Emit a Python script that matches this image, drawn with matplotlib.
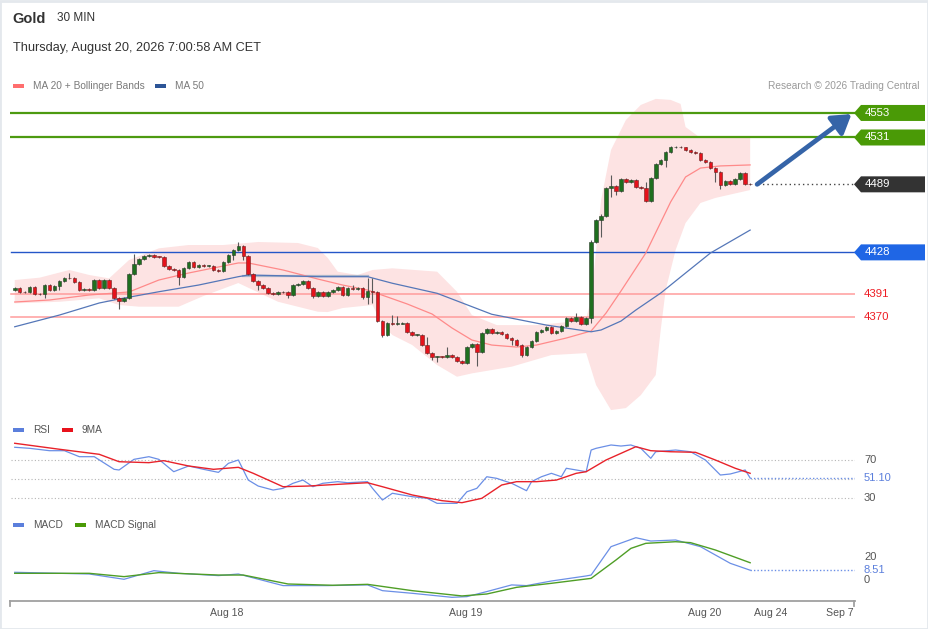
import matplotlib
matplotlib.use('Agg')
import matplotlib.pyplot as plt
from matplotlib.patches import Polygon, Rectangle
import numpy as np

plt.rcParams['font.family'] = ['Liberation Sans', 'DejaVu Sans']

W, H = 929, 629

#### data (30 min bars, bar 0 = first candle) ####
first_open = 4394.2
closes = [4396.0, 4392.4, 4392.2, 4396.9, 4390.6, 4390.3, 4398.7, 4394.2, 4397.8, 4402.3,
          4405.0, 4404.8, 4401.4, 4394.2, 4395.1, 4394.0, 4403.2, 4396.0, 4403.2, 4396.0,
          4387.1, 4384.4, 4387.1, 4408.6, 4417.6, 4422.0, 4424.7, 4426.0, 4424.0, 4423.8,
          4415.8, 4413.1, 4412.2, 4405.9, 4414.0, 4419.4, 4414.9, 4416.7, 4415.8, 4415.9,
          4412.2, 4411.3, 4419.4, 4425.6, 4430.1, 4433.7, 4424.7, 4408.6, 4402.3, 4398.7,
          4396.0, 4391.5, 4390.6, 4392.4, 4392.2, 4389.8, 4398.7, 4399.6, 4402.3, 4396.0,
          4388.9, 4392.4, 4388.9, 4392.7, 4394.2, 4397.2, 4389.8, 4395.8, 4395.1, 4396.3,
          4388.2, 4393.6, 4392.7, 4366.4, 4353.9, 4364.6, 4363.8, 4364.2, 4364.6, 4356.8,
          4353.9, 4354.0, 4344.9, 4337.8, 4334.2, 4334.6, 4334.5, 4336.0, 4334.2, 4330.6,
          4328.8, 4343.1, 4345.8, 4338.6, 4355.7, 4359.3, 4355.7, 4356.6, 4354.8, 4351.2,
          4349.4, 4344.9, 4336.0, 4343.1, 4348.5, 4356.6, 4358.4, 4361.1, 4355.7, 4357.5,
          4362.0, 4369.1, 4366.4, 4370.0, 4363.8, 4369.1, 4437.3, 4457.0, 4460.6, 4485.7,
          4487.8, 4483.0, 4493.8, 4490.8, 4492.9, 4486.4, 4485.5, 4474.0, 4494.9, 4507.0,
          4510.8, 4518.3, 4522.2, 4522.4, 4522.1, 4519.8, 4518.3, 4516.9, 4510.8, 4509.3,
          4503.9, 4500.4, 4488.4, 4492.3, 4489.1, 4493.8, 4498.9, 4489.1, 4489.0]

# the longer wicks (bar: price); the rest have a short stub
long_highs = {11: 4409.5, 24: 4426.5, 45: 4437.3, 68: 4398.7, 71: 4405.0, 72: 4405.0,
              76: 4371.6, 77: 4370.5, 83: 4352.0, 87: 4343.4, 113: 4373.6, 116: 4439.0,
              118: 4462.0, 120: 4497.4, 127: 4491.4}
long_lows = {6: 4387.3, 9: 4394.2, 21: 4377.2, 33: 4398.7, 44: 4420.8, 46: 4421.1,
             49: 4394.2, 55: 4387.0, 60: 4387.0, 70: 4386.0, 71: 4382.0, 72: 4383.0,
             74: 4352.0, 84: 4331.4, 85: 4329.4, 93: 4326.1, 100: 4345.0, 102: 4334.5,
             116: 4365.0, 118: 4442.0, 120: 4478.0, 121: 4479.5, 127: 4473.4, 128: 4473.0,
             131: 4504.9, 141: 4491.4, 142: 4484.8}

ma20_bars = [0, 7, 15, 23, 29, 35, 41, 45, 47, 54, 61, 66, 71, 75, 79, 84, 88, 92, 96,
             101, 105, 111, 116, 119, 122, 127, 132, 135, 138, 142, 148]
ma20_vals = [4383.5, 4385.3, 4389.8, 4392.5, 4403.2, 4409.5, 4414.9, 4418.5, 4418.5, 4412.2,
             4404.1, 4398.7, 4394.2, 4388.0, 4381.7, 4372.7, 4360.2, 4349.4, 4344.9, 4343.1,
             4344.9, 4351.2, 4357.5, 4373.6, 4393.3, 4427.4, 4473.2, 4495.6, 4503.6, 4505.5,
             4506.4]

bb_up_bars = [0, 5, 11, 15, 19, 23, 29, 35, 42, 49, 57, 61, 63, 65, 69, 72, 76, 85, 89,
              92, 97, 105, 112, 115, 116, 118, 120, 123, 126, 129, 132, 134, 135, 138, 148]
bb_up_vals = [4403.2, 4405.3, 4412.2, 4407.7, 4404.7, 4421.1, 4431.6, 4434.6, 4434.6, 4437.3,
              4436.4, 4431.9, 4423.0, 4410.7, 4407.7, 4412.2, 4413.7, 4410.7, 4392.7, 4371.8,
              4362.8, 4362.8, 4365.8, 4369.1, 4385.3, 4474.9, 4519.8, 4546.7, 4560.2, 4565.6,
              4564.7, 4561.1, 4540.4, 4530.6, 4530.6]

bb_lo_bars = [0, 9, 17, 21, 25, 33, 38, 45, 53, 61, 63, 66, 72, 74, 76, 80, 85, 89, 92,
              100, 108, 115, 117, 120, 123, 126, 129, 130, 131, 133, 135, 138, 141, 148]
bb_lo_vals = [4382.3, 4383.7, 4386.8, 4380.8, 4379.3, 4379.3, 4388.9, 4400.5, 4383.7, 4374.8,
              4374.5, 4378.1, 4380.8, 4362.8, 4353.9, 4344.9, 4327.0, 4316.5, 4319.5, 4325.5,
              4335.9, 4337.7, 4309.0, 4286.6, 4288.4, 4300.0, 4318.0, 4358.4, 4394.2, 4430.1,
              4454.3, 4472.3, 4476.8, 4483.9]

ma50_bars = [0, 9, 17, 21, 29, 37, 45, 47, 53, 61, 71, 76, 85, 96, 107, 116, 118, 122,
             125, 130, 134, 140, 148]
ma50_vals = [4361.3, 4371.8, 4382.6, 4386.2, 4392.7, 4398.7, 4406.2, 4407.7, 4407.1, 4406.2,
             4406.2, 4400.3, 4391.3, 4372.5, 4362.8, 4356.8, 4358.4, 4366.4, 4376.3, 4391.5,
             4405.9, 4427.4, 4448.0]

rsi_bars = [0, 3, 7, 10, 13, 16, 20, 21, 24, 27, 29, 32, 35, 38, 41, 43, 45, 47, 49, 52,
            54, 56, 58, 60, 62, 65, 67, 71, 72, 74, 76, 78, 80, 83, 85, 88, 89, 91, 93, 95,
            97, 98, 100, 103, 104, 106, 108, 110, 111, 113, 115, 116, 117, 120, 122, 124,
            126, 128, 129, 133, 136, 139, 142, 144, 147, 148]
rsi_vals = [83.4, 82.3, 79.8, 79.8, 73.5, 73.5, 60.2, 59.5, 70.7, 73.5, 70.7, 57.7, 63.7,
            60.2, 57.0, 66.5, 70.0, 48.9, 42.6, 38.4, 40.2, 45.5, 48.9, 41.9, 45.5, 47.2,
            46.1, 47.2, 40.2, 27.9, 35.0, 33.2, 31.4, 29.7, 24.4, 24.4, 24.4, 36.6, 40.2,
            52.4, 50.7, 48.9, 45.5, 37.7, 47.2, 52.4, 56.0, 52.4, 61.3, 59.5, 57.7, 80.5,
            82.3, 85.8, 84.7, 85.8, 82.3, 71.8, 78.7, 80.5, 78.7, 70.0, 54.2, 55.3, 59.5,
            51.1]

rsi_ma_bars = [0, 9, 17, 21, 27, 30, 35, 40, 45, 48, 54, 59, 65, 71, 74, 80, 86, 90, 94,
               98, 101, 105, 109, 113, 115, 119, 125, 128, 132, 137, 141, 145, 148]
rsi_ma_vals = [87.6, 81.3, 76.0, 68.2, 67.2, 69.3, 63.7, 60.2, 62.3, 56.0, 41.9, 42.6, 44.4,
               46.1, 41.9, 33.2, 27.2, 25.1, 29.7, 43.7, 47.2, 47.2, 48.9, 56.0, 57.7, 70.0,
               84.0, 79.8, 78.7, 78.1, 70.0, 61.3, 56.0]

macd_bars = [0, 9, 15, 22, 28, 33, 41, 45, 54, 63, 71, 74, 80, 88, 91, 95, 100, 103, 108,
             115, 116, 120, 125, 128, 133, 138, 144, 148]
macd_vals = [6.7, 5.8, 5.2, 0.6, 8.1, 5.8, 3.8, 5.2, -4.9, -4.9, -4.3, -9.3, -11.6, -15.1,
             -14.5, -10.1, -4.3, -4.9, -0.9, 3.5, 4.3, 29.0, 36.8, 33.9, 34.8, 29.0, 14.5, 8.51]

signal_bars = [0, 15, 22, 29, 41, 46, 55, 64, 71, 80, 90, 95, 101, 108, 116, 121, 124, 127,
               133, 136, 141, 148]
signal_vals = [5.8, 5.8, 2.9, 6.4, 4.3, 4.3, -3.5, -4.6, -3.8, -9.3, -13.9, -12.2, -6.4,
               -2.9, 1.4, 17.4, 27.5, 31.9, 33.3, 32.5, 26.1, 15.0]

levels_green = [4553, 4531]
level_blue = 4428
levels_red = [4391, 4370]
last_price = 4489
rsi_last = 51.10
macd_last = 8.51

date_ticks = [42.7, 90.8, 138.9, 152.2, 166.1]
date_labels = ['Aug 18', 'Aug 19', 'Aug 20', 'Aug 24', 'Sep 7']

#### figure / axes ####
fig = plt.figure(figsize=(W / 100, H / 100), dpi=100)
fig.patch.set_facecolor('white')

def rect(x0, x1, y0, y1):
    return [x0 / W, 1 - y1 / H, (x1 - x0) / W, (y1 - y0) / H]

xlim = (-0.95, 169.1)
ax = fig.add_axes(rect(10, 855, 95, 420))
ax_rsi = fig.add_axes(rect(10, 855, 440, 510))
ax_macd = fig.add_axes(rect(10, 855, 530, 601))
for a in (ax, ax_rsi, ax_macd):
    a.set_xlim(*xlim)
    a.axis('off')
ax.set_ylim(4277.7, 4569.1)
ax_rsi.set_ylim(17.4, 91.05)
ax_macd.set_ylim(-18.3, 43.5)

# bollinger band + moving averages
ax.fill(np.r_[bb_up_bars, bb_lo_bars[::-1]], np.r_[bb_up_vals, bb_lo_vals[::-1]],
        color='#fde3e3', lw=0, zorder=1)
ax.plot(ma20_bars, ma20_vals, color='#ff8a8a', lw=0.9, zorder=3)
ax.plot(ma50_bars, ma50_vals, color='#5577b8', lw=0.9, zorder=3)
ax.plot([46, 71], [4406.8, 4406.8], color='#a9b5c9', lw=1.6, zorder=2)

# level lines
for lv in levels_green:
    ax.axhline(lv, xmin=0.001, color='#4c9a10', lw=1.6, zorder=2)
ax.axhline(level_blue, xmin=0.001, color='#2456c8', lw=1.0, zorder=2)
for lv in levels_red:
    ax.axhline(lv, xmin=0.001, color='#ff9c9c', lw=1.1, zorder=2)

# candles
opens = [first_open] + closes[:-1]
n = len(closes)
for i in range(n):
    o, c = opens[i], closes[i]
    hi = long_highs.get(i, max(o, c) + 0.8)
    lo = long_lows.get(i, min(o, c) - 0.8)
    ax.vlines(i, lo, hi, color='#5a5a5a', lw=0.8, zorder=4)
    up = c >= o
    body = max(abs(c - o), 0.6)
    ax.bar(i, body, bottom=min(o, c), width=0.72,
           color='#1f6f1f' if up else '#e5121b',
           edgecolor='#2a3a2a' if up else '#6b2020', lw=0.4, zorder=5)

ax.plot([n + 0.5, xlim[1]], [last_price, last_price], color='#444444', lw=1.0,
        ls=(0, (1, 2.2)), zorder=3)
ax.annotate('', xy=(168.4, 4552.0), xytext=(n + 0.4, last_price),
            arrowprops=dict(arrowstyle='-|>,head_width=0.35,head_length=0.55',
                            mutation_scale=20, lw=3.4, color='#3564a8',
                            shrinkA=0, shrinkB=0), zorder=6)

# RSI panel
for lv in (70, 50, 30):
    ax_rsi.axhline(lv, xmin=0.001, color='#b5b5b5', lw=0.8, ls=(0, (1, 2)))
ax_rsi.plot(rsi_bars, rsi_vals, color='#6b8fe6', lw=0.9)
ax_rsi.plot(rsi_ma_bars, rsi_ma_vals, color='#e8222a', lw=1.0)
ax_rsi.plot([rsi_bars[-1], xlim[1]], [rsi_last, rsi_last], color='#6b8fe6', lw=1.0,
            ls=(0, (1, 1.5)))

# MACD panel
ax_macd.plot(macd_bars, macd_vals, color='#6b8fe6', lw=0.9)
ax_macd.plot(signal_bars, signal_vals, color='#4f9e26', lw=1.0)
ax_macd.plot([macd_bars[-1], xlim[1]], [macd_last, macd_last], color='#6b8fe6', lw=1.0,
             ls=(0, (1, 1.5)))

#### overlay in pixel coords for labels ####
ov = fig.add_axes([0, 0, 1, 1], zorder=10)
ov.set_xlim(0, W)
ov.set_ylim(0, H)
ov.axis('off')
ov.patch.set_alpha(0)

def py(a, v):
    return a.transData.transform((0, v))[1]

def tag(yy, text, color):
    pts = [(854, yy), (861, yy + 8), (925, yy + 8), (925, yy - 8), (861, yy - 8)]
    ov.add_patch(Polygon(pts, closed=True, fc=color, ec='none'))
    ov.text(865, yy, text, color='white', fontsize=8.2, va='center', ha='left')

for lv in levels_green:
    tag(py(ax, lv), str(lv), '#4a9a06')
tag(py(ax, last_price), str(last_price), '#333333')
tag(py(ax, level_blue), str(level_blue), '#1f66e5')
for lv in levels_red:
    ov.text(864, py(ax, lv), str(lv), color='#ee1c24', fontsize=8.2, va='center')

ov.text(864, py(ax_rsi, 70), '70', color='#555555', fontsize=8, va='center')
ov.text(864, py(ax_rsi, 30), '30', color='#555555', fontsize=8, va='center')
ov.text(864, py(ax_rsi, rsi_last), '%.2f' % rsi_last, color='#5b7fdc', fontsize=8,
        va='center')
ov.text(864, py(ax_macd, 20), '20', color='#555555', fontsize=8, va='center')
ov.text(864, py(ax_macd, 0), '0', color='#555555', fontsize=8, va='center')
ov.text(864, py(ax_macd, macd_last), '%.2f' % macd_last, color='#5b7fdc', fontsize=8,
        va='center')

# header
ov.text(12, H - 19, 'Gold', fontsize=10.5, fontweight='bold', color='#333333', va='center')
ov.text(57, H - 18, '30 MIN', fontsize=8.5, color='#333333', va='center')
ov.text(13, H - 48, 'Thursday, August 20, 2026 7:00:58 AM CET', fontsize=9.2,
        color='#333333', va='center')

def legend_item(x, y, color, text, tcolor='#7a7a7a'):
    ov.add_patch(Rectangle((x, H - y - 2.2), 11, 4.4, fc=color, ec='none'))
    ov.text(x + 20, H - y, text, fontsize=7.3, color=tcolor, va='center')

legend_item(13, 86, '#ff6e6e', 'MA 20 + Bollinger Bands')
legend_item(155, 86, '#2d5597', 'MA 50')
ov.text(920, H - 86, 'Research \u00a9 2026 Trading Central', fontsize=7.3,
        color='#9a9a9a', va='center', ha='right')
legend_item(13, 430, '#5b7fdc', 'RSI', '#555555')
legend_item(62, 430, '#e8121c', '9MA', '#555555')
legend_item(13, 525, '#5b7fdc', 'MACD', '#555555')
legend_item(75, 525, '#4a9a06', 'MACD Signal', '#555555')

# time axis
ov.plot([10, 855], [H - 601, H - 601], color='#a0a0a0', lw=1.3)
ov.plot([10.5, 10.5], [H - 601, H - 606], color='#a0a0a0', lw=1.3)
ov.plot([854.5, 854.5], [H - 601, H - 606], color='#a0a0a0', lw=1.3)
for b, lab in zip(date_ticks, date_labels):
    xp = ax.transData.transform((b, 0))[0]
    ov.text(xp, H - 613, lab, fontsize=7.6, color='#555555', ha='center', va='center')

# light frame round the picture
ov.add_patch(Rectangle((0.5, 0.5), W - 1, H - 1, fill=False, ec='#e4e8ed', lw=2))

fig.savefig('out.png', dpi=100, facecolor='white')
